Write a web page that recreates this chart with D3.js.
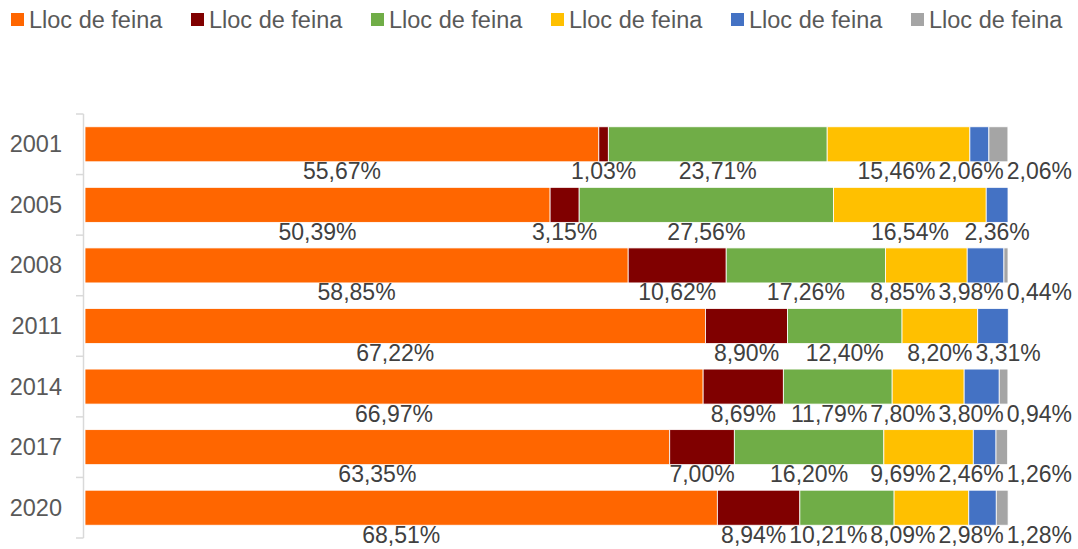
<!DOCTYPE html>
<html>
<head>
<meta charset="utf-8">
<script src="https://cdn.jsdelivr.net/npm/d3@7"></script>
<style>
  html, body { margin: 0; padding: 0; background: #fff; }
  svg { display: block; font-family: "Liberation Sans", Arial, sans-serif; }
</style>
</head>
<body>
<svg id="chart" width="1078" height="549"></svg>
<script>
// ---- data ----
const years = ["2001", "2005", "2008", "2011", "2014", "2017", "2020"];
const seriesNames = ["Lloc de feina", "Lloc de feina", "Lloc de feina", "Lloc de feina", "Lloc de feina", "Lloc de feina"];
const serie1 = [55.67, 50.39, 58.85, 67.22, 66.97, 63.35, 68.51];
const serie2 = [1.03, 3.15, 10.62, 8.90, 8.69, 7.00, 8.94];
const serie3 = [23.71, 27.56, 17.26, 12.40, 11.79, 16.20, 10.21];
const serie4 = [15.46, 16.54, 8.85, 8.20, 7.80, 9.69, 8.09];
const serie5 = [2.06, 2.36, 3.98, 3.31, 3.80, 2.46, 2.98];
const serie6 = [2.06, 0, 0.44, 0, 0.94, 1.26, 1.28];
const colors = ["#FF6600", "#800000", "#70AD47", "#FFC000", "#4472C4", "#A5A5A5"];

const allSeries = [serie1, serie2, serie3, serie4, serie5, serie6];
const keys = allSeries.map((_, i) => "s" + i);
const table = years.map((y, r) => {
  const o = { year: y };
  allSeries.forEach((s, i) => { o[keys[i]] = s[r]; });
  return o;
});

const svg = d3.select("#chart");
const fmt = v => v.toFixed(2).replace(".", ",") + "%";

const x = d3.scaleLinear().domain([0, 100]).range([85, 1008]);
const y = d3.scaleBand().domain(years).range([114, 538]).paddingInner(0.422).paddingOuter(0.211);

const stack = d3.stack().keys(keys);
const stacked = stack(table);

// ---- axis (vertical line + ticks between categories) ----
const axisG = svg.append("g");
axisG.append("line")
  .attr("x1", 83.5).attr("x2", 83.5)
  .attr("y1", y.range()[0]).attr("y2", y.range()[1])
  .attr("stroke", "#d9d9d9").attr("stroke-width", 1.5);
const step = y.step();
d3.range(years.length + 1).forEach(i => {
  const yy = y.range()[0] + i * step;
  axisG.append("line")
    .attr("x1", 76).attr("x2", 83.5)
    .attr("y1", yy).attr("y2", yy)
    .attr("stroke", "#d9d9d9").attr("stroke-width", 1.5);
});
axisG.selectAll("text.year").data(years).join("text")
  .attr("class", "year")
  .attr("x", 62)
  .attr("y", d => y(d) + y.bandwidth() / 2)
  .attr("text-anchor", "end")
  .attr("dominant-baseline", "central")
  .attr("font-size", 23.5)
  .attr("fill", "#595959")
  .text(d => d);

// ---- bars ----
svg.append("g").selectAll("g").data(stacked).join("g")
  .attr("fill", (d, i) => colors[i])
  .selectAll("rect").data(d => d).join("rect")
  .attr("x", d => x(d[0]))
  .attr("y", d => y(d.data.year))
  .attr("width", d => Math.max(0, x(d[1]) - x(d[0])))
  .attr("height", y.bandwidth())
  .attr("stroke", "#fff")
  .attr("stroke-width", 0.8);

// ---- data labels (below bars, with collision avoidance) ----
const labelG = svg.append("g");
const rightBound = 1072, gap = 3;
years.forEach((yr, r) => {
  const items = [];
  stacked.forEach((s, i) => {
    const d = s[r];
    if (allSeries[i][r] <= 0) return;
    const t = labelG.append("text")
      .attr("font-size", 23)
      .attr("fill", "#404040")
      .attr("text-anchor", "middle")
      .attr("y", y(yr) + y.bandwidth() / 2 + 35)
      .text(fmt(allSeries[i][r]));
    const w = t.node().getComputedTextLength();
    items.push({ t, w, cx: x((d[0] + d[1]) / 2) });
  });
  for (let i = 1; i < items.length; i++) {
    const prevR = items[i - 1].cx + items[i - 1].w / 2;
    if (items[i].cx - items[i].w / 2 < prevR + gap) items[i].cx = prevR + gap + items[i].w / 2;
  }
  const last = items[items.length - 1];
  if (last.cx + last.w / 2 > rightBound) last.cx = rightBound - last.w / 2;
  for (let i = items.length - 2; i >= 0; i--) {
    const nextL = items[i + 1].cx - items[i + 1].w / 2;
    if (items[i].cx + items[i].w / 2 > nextL - gap) items[i].cx = nextL - gap - items[i].w / 2;
  }
  items.forEach(it => it.t.attr("x", it.cx));
});

// ---- legend ----
const legend = svg.append("g");
seriesNames.forEach((name, i) => {
  const lx = 11 + i * 180;
  legend.append("rect").attr("x", lx).attr("y", 13).attr("width", 13).attr("height", 13).attr("fill", colors[i]);
  legend.append("text").attr("x", lx + 18).attr("y", 19.5)
    .attr("dominant-baseline", "central")
    .attr("font-size", 23.5).attr("fill", "#595959").text(name);
});
</script>
</body>
</html>
